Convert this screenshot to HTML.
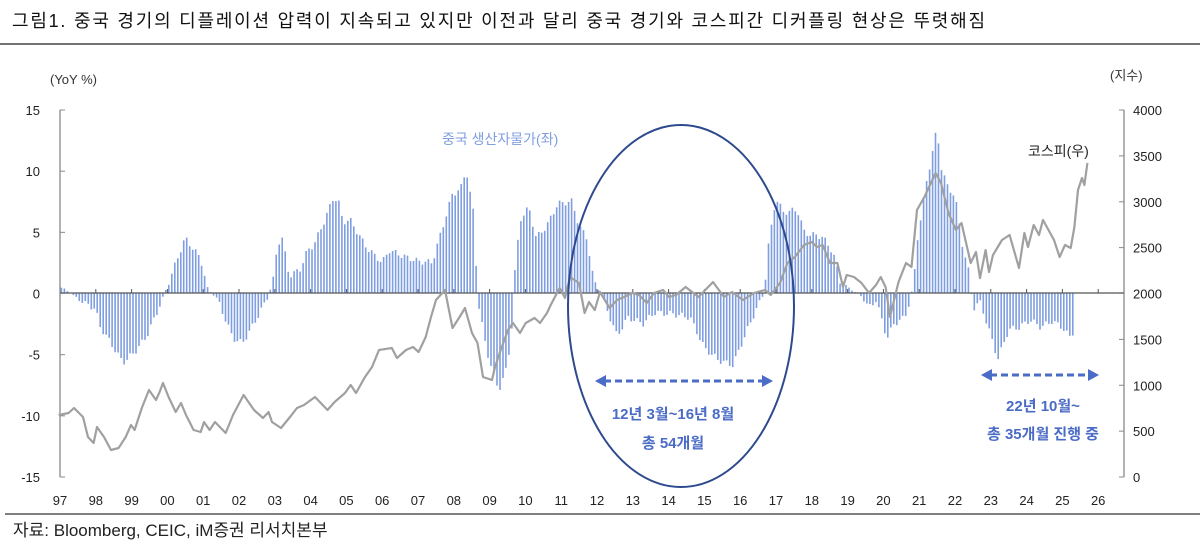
<!DOCTYPE html>
<html><head><meta charset="utf-8"><style>
body{margin:0;width:1200px;height:545px;background:#fff;overflow:hidden;font-family:"Liberation Sans","Noto Sans CJK KR",sans-serif}
</style></head><body>
<svg id="s" width="1200" height="545" xmlns="http://www.w3.org/2000/svg" font-family="Liberation Sans, Noto Sans CJK KR, sans-serif">
<text x="12" y="27" font-size="18" fill="#111" textLength="973" lengthAdjust="spacing">그림1.  중국 경기의 디플레이션 압력이 지속되고 있지만 이전과 달리 중국 경기와 코스피간 디커플링 현상은 뚜렷해짐</text>
<line x1="0" y1="44" x2="1200" y2="44" stroke="#444" stroke-width="1.5"/>
<text x="50" y="84" font-size="13" fill="#333">(YoY %)</text>
<text x="1110" y="80" font-size="13" fill="#333">(지수)</text>
<g id="g"></g>
<text x="442" y="144" font-size="14" fill="#7f9ee0">중국 생산자물가(좌)</text>
<text x="1028" y="156" font-size="14" fill="#222">코스피(우)</text>
<ellipse cx="681" cy="306" rx="113" ry="181" fill="none" stroke="#2e4a8e" stroke-width="2"/>
<g stroke="#4a6bc6" stroke-width="3" fill="#4a6bc6">
<line x1="604" y1="381" x2="764" y2="381" stroke-dasharray="7,4"/>
<polygon points="595,381 606,375 606,387" stroke="none"/><polygon points="773,381 762,375 762,387" stroke="none"/>
<line x1="990" y1="375" x2="1090" y2="375" stroke-dasharray="7,4"/>
<polygon points="981,375 992,369 992,381" stroke="none"/><polygon points="1099,375 1088,369 1088,381" stroke="none"/>
</g>
<g font-size="15" font-weight="bold" fill="#4a6bc6" text-anchor="middle">
<text x="673" y="419">12년 3월~16년 8월</text>
<text x="673" y="448">총 54개월</text>
<text x="1043" y="411">22년 10월~</text>
<text x="1043" y="439">총 35개월 진행 중</text>
</g>
<line x1="5" y1="514" x2="1200" y2="514" stroke="#333" stroke-width="1.2"/>
<text x="13" y="536" font-size="17" fill="#222">자료: Bloomberg, CEIC, iM증권 리서치본부</text>
</svg>
<script>
var g=document.getElementById('g'),h='';
function X(t){return 60+(t-1997)*35.8}
function Y(v){return 293-v*12.23}
var P=[[1997,0.5],[1997.3,0],[1997.5,-0.5],[1997.8,-1],[1998.0,-1.3],[1998.09,-2.6],[1998.4,-4],[1998.76,-5.7],[1999.1,-4.8],[1999.43,-3.5],[1999.82,-0.8],[2000.03,0.8],[2000.3,3],[2000.5,4.5],[2000.93,2.8],[2001.13,0.3],[2001.4,-0.5],[2001.6,-2],[2001.83,-3.7],[2002.1,-4.1],[2002.42,-2.5],[2002.8,-0.4],[2003.0,1.5],[2003.06,3.9],[2003.2,4.6],[2003.4,1.4],[2003.7,1.9],[2003.9,3.4],[2004.1,4],[2004.4,6],[2004.65,7.9],[2004.8,7.3],[2004.9,5.8],[2005.1,6],[2005.4,4.5],[2005.6,3.6],[2006,2.5],[2006.2,3.5],[2006.6,3],[2007,2.6],[2007.4,2.5],[2007.6,4.5],[2007.8,6.5],[2007.95,8],[2008.2,8.6],[2008.35,10.1],[2008.55,6.5],[2008.63,2],[2008.7,-1],[2008.9,-4.5],[2009.25,-8],[2009.5,-6],[2009.65,-2],[2009.7,1.5],[2009.85,6],[2010.1,7],[2010.3,4.5],[2010.6,5.5],[2010.9,7.3],[2011.3,7.5],[2011.5,5.5],[2011.72,4.5],[2011.9,1.1],[2012.1,0],[2012.56,-3.5],[2012.87,-2],[2013.3,-2.5],[2013.6,-1.6],[2014.1,-1.7],[2014.6,-2],[2015.0,-4.5],[2015.4,-5.5],[2015.8,-5.9],[2016.2,-3],[2016.5,-1],[2016.67,0],[2016.77,3.5],[2017.0,7.8],[2017.2,6.6],[2017.6,6.8],[2017.8,4.9],[2018.3,4.6],[2018.6,3.3],[2018.8,0.8],[2019.1,0.3],[2019.4,-0.3],[2019.6,-1.2],[2019.8,-0.6],[2020.1,-3.7],[2020.3,-2.5],[2020.6,-2],[2020.75,-0.5],[2020.85,1],[2020.95,4.4],[2021.2,9],[2021.5,13.5],[2021.6,10.5],[2021.8,8.6],[2022.0,8],[2022.2,4.1],[2022.4,1.5],[2022.5,-1.3],[2022.7,-0.7],[2023.0,-3.5],[2023.2,-5.4],[2023.5,-3],[2023.8,-2.8],[2024.1,-2.2],[2024.4,-2.8],[2024.7,-2.3],[2025.0,-2.8],[2025.2,-3.6],[2025.35,-3]];
function ip(t){for(var i=0;i<P.length-1;i++){if(t>=P[i][0]&&t<=P[i+1][0]){var f=(t-P[i][0])/(P[i+1][0]-P[i][0]);return P[i][1]+f*(P[i+1][1]-P[i][1]);}}return null}
for(var m=0;m<12*28.4;m++){var t=1997+m/12+0.04,v=ip(t);if(v===null)continue;v+=Math.sin(m*1.7)*0.25*Math.min(1,Math.abs(v));var x=X(t);h+='<rect x="'+(x-0.8).toFixed(1)+'" y="'+Math.min(293,Y(v)).toFixed(1)+'" width="1.6" height="'+Math.abs(v*12.23).toFixed(1)+'" fill="#7f9ee0"/>';}
h+='<line x1="60" y1="110" x2="60" y2="477" stroke="#888" stroke-width="1.3"/>';
h+='<line x1="1124" y1="110" x2="1124" y2="477" stroke="#888" stroke-width="1.3"/>';
h+='<line x1="60" y1="293" x2="1124" y2="293" stroke="#555" stroke-width="1.3"/>';
var L=['15','10','5','0','-5','-10','-15'];
for(var i=0;i<7;i++){var y=110+i*61.17;h+='<line x1="60" y1="'+y+'" x2="65" y2="'+y+'" stroke="#888"/>';h+='<text x="40" y="'+(y+5)+'" font-size="13" text-anchor="end" fill="#222">'+L[i]+'</text>';}
for(var i=0;i<=8;i++){var y=477-i*45.875;h+='<line x1="1119" y1="'+y+'" x2="1124" y2="'+y+'" stroke="#888"/>';h+='<text x="1133" y="'+(y+5)+'" font-size="13" fill="#222">'+(i*500)+'</text>';}
var yl=['97','98','99','00','01','02','03','04','05','06','07','08','09','10','11','12','13','14','15','16','17','18','19','20','21','22','23','24','25','26'];
for(var i=0;i<30;i++){var x=X(1997+i);h+='<text x="'+x+'" y="505" font-size="13" text-anchor="middle" fill="#222">'+yl[i]+'</text>';if(i>0)h+='<line x1="'+x+'" y1="289" x2="'+x+'" y2="293" stroke="#555"/>';}
var K=[[58.6,415],[68.6,413],[74,408],[83,417],[88,437],[93.6,443],[97,427],[104,437],[111,450],[118.6,448],[125.7,437],[131,425],[134.6,430],[141.8,408],[149,390],[156,400],[159.6,392],[163,383],[168.6,397],[175.7,412],[181,403],[186,415],[193.6,430],[200.7,432],[204,422],[209.6,430],[215,422],[225.7,433],[233,415],[243.6,395],[254,410],[263,418],[268.6,412],[272,422],[281,428],[290,417],[297,408],[304,405],[315,397],[327.5,410],[334.6,402],[345,393],[350.7,385],[356,393],[365,377],[372,367],[379,350],[391.8,348],[397,358],[406,350],[413,347],[418.6,352],[425.7,337],[431,317],[436,300],[445,290],[452.5,328],[459.6,317],[465,308],[472,333],[477.5,343],[483,377],[492,380],[495,367],[500.7,350],[508,330],[513,323],[520,333],[525.7,323],[534.6,318],[540,323],[547,313],[550.7,305],[559.6,288],[565,298],[570,277],[579,283],[584.6,313],[589,302],[594.8,310],[600,292],[609.6,308],[617,300],[624,297],[632,293],[639,295],[646.7,303],[654,293],[663,290],[669,297],[676,295],[685.6,287],[698.5,297],[713,282],[724,297],[732,292],[743,300],[754,293],[765,290],[770.7,295],[780,283],[787.4,263],[794.8,257],[804,245],[811.5,242],[817,247],[822.6,245],[830,263],[837.4,263],[843,287],[846.7,275],[854,277],[861.5,283],[869,293],[876,285],[880.7,277],[885.6,287],[890,317],[898.5,282],[906,263],[911.5,267],[917,210],[924.4,197],[935.6,173],[941,183],[948.5,213],[956,230],[961.5,223],[970.7,263],[976,252],[980,278],[985.6,250],[989,272],[993,255],[1002,240],[1009.6,235],[1019,268],[1024.4,233],[1028,247],[1033.7,225],[1039,235],[1043,220],[1054,240],[1059.6,257],[1065,245],[1070.7,248],[1074.4,227],[1078,190],[1082,178],[1084.4,185],[1087.4,163]];
h+='<polyline fill="none" stroke="#a0a0a0" stroke-width="2.2" stroke-linejoin="round" points="'+K.map(function(p){return p[0]+','+p[1]}).join(' ')+'"/>';
g.innerHTML=h;
</script>
</body></html>
